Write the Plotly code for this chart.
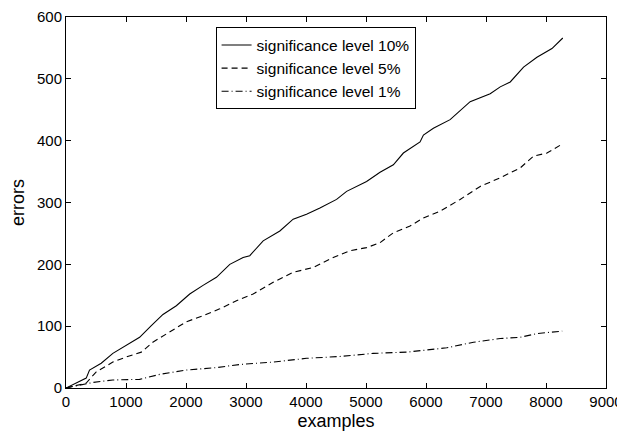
import plotly.graph_objects as go

# cumulative errors vs number of examples
x10 = [0, 337, 392, 587, 781, 1000, 1227, 1422, 1616, 1839, 2062, 2284, 2507, 2730, 2952,
       3063, 3286, 3564, 3786, 4009, 4232, 4510, 4677, 5010, 5234, 5456, 5623, 5901, 5957,
       6123, 6402, 6736, 7070, 7237, 7404, 7626, 7849, 8099, 8280]
y10 = [0, 16, 29, 40, 56, 69, 82, 101, 119, 133, 152, 166, 179, 200, 211,
       214, 238, 254, 273, 281, 291, 305, 318, 334, 349, 361, 380, 398, 409,
       420, 434, 463, 476, 487, 495, 519, 535, 549, 566]

x5 = [0, 337, 504, 781, 1000, 1255, 1447, 1725, 2003, 2284, 2562, 2841, 3008, 3119, 3453,
      3786, 4120, 4454, 4732, 5010, 5234, 5456, 5734, 5957, 6235, 6569, 6903, 7237, 7571,
      7793, 8016, 8260]
y5 = [0, 8, 26, 42, 50, 58, 74, 90, 107, 117, 128, 141, 148, 152, 171,
      187, 195, 211, 222, 227, 235, 251, 262, 275, 286, 305, 326, 340, 356,
      375, 380, 394]

x1 = [0, 447, 781, 1227, 1561, 2003, 2507, 2896, 3453, 4009, 4566, 5122, 5679, 6012,
      6346, 6791, 7237, 7571, 7849, 8270]
y1 = [0, 9, 13, 14, 22, 29, 33, 38, 42, 48, 51, 56, 58, 62,
      65, 74, 80, 82, 88, 92]

names = ["significance level 10%", "significance level 5%", "significance level 1%"]

FONT = "Liberation Sans, Arial, Helvetica, sans-serif"

fig = go.Figure()
fig.add_trace(go.Scatter(x=x10, y=y10, mode="lines", name=names[0],
                         line=dict(color="black", width=1.1, dash="solid")))
fig.add_trace(go.Scatter(x=x5, y=y5, mode="lines", name=names[1],
                         line=dict(color="black", width=1.1, dash="6px,4px")))
fig.add_trace(go.Scatter(x=x1, y=y1, mode="lines", name=names[2],
                         line=dict(color="black", width=1.1, dash="7px,3px,1px,3px")))

axis_common = dict(
    showgrid=False, zeroline=False, showline=True, linecolor="black", linewidth=1,
    mirror="ticks", ticks="inside", ticklen=5, tickcolor="black", tickwidth=1,
    tickfont=dict(family=FONT, size=15, color="black"), automargin=False,
    ticklabeloverflow="allow",
)

fig.update_xaxes(range=[0, 9000], tick0=0, dtick=1000,
                 title=dict(text="examples", font=dict(family=FONT, size=18, color="black"), standoff=5),
                 **axis_common)
fig.update_yaxes(range=[0, 600], tick0=0, dtick=100,
                 title=dict(text="errors", font=dict(family=FONT, size=18, color="black"), standoff=8),
                 **axis_common)

fig.update_layout(
    width=617, height=427,
    margin=dict(l=58, r=19, t=9, b=47),
    paper_bgcolor="white", plot_bgcolor="white",
    font=dict(family=FONT, color="black"),
    showlegend=True,
    legend=dict(x=0.277, y=0.972, xanchor="left", yanchor="top",
                bgcolor="white", bordercolor="black", borderwidth=1,
                font=dict(family=FONT, size=15.5, color="black"),
                tracegroupgap=0),
)

fig.write_html("out.html")
